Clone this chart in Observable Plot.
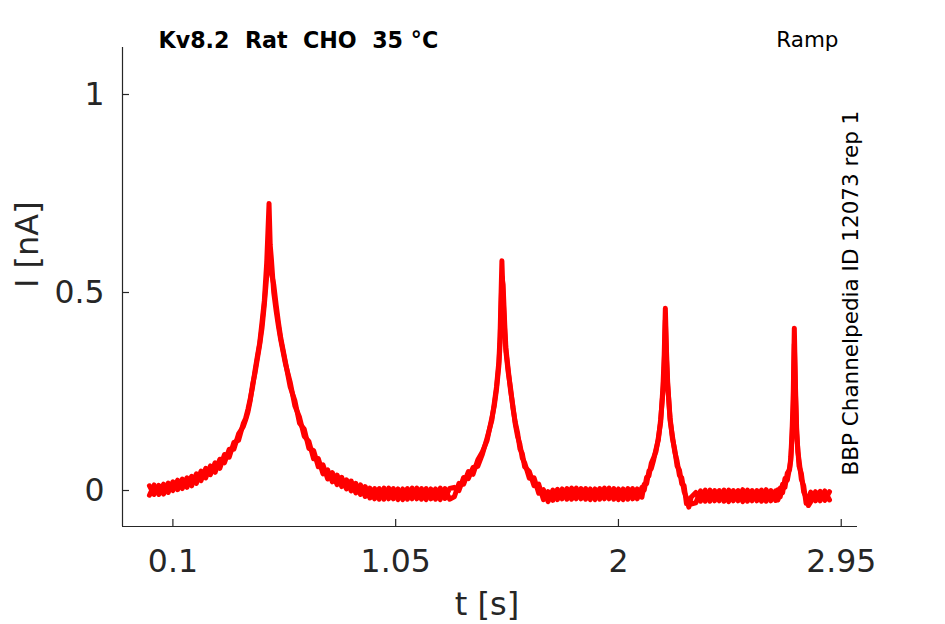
<!DOCTYPE html>
<html>
<head>
<meta charset="utf-8">
<script src="https://cdn.jsdelivr.net/npm/d3@7"></script>
<script src="https://cdn.jsdelivr.net/npm/@observablehq/plot@0.6"></script>
<style>
  html, body { margin: 0; padding: 0; background: #fff; }
  #chart svg { display: block; }
  .pre text { white-space: pre; }
</style>
</head>
<body>
<div id="chart"></div>
<script>
// ---- data ----
const time = [
  0, 0.02, 0.04, 0.06, 0.08, 0.10, 0.12, 0.14, 0.16, 0.18, 0.20, 0.22, 0.24, 0.26, 0.28, 0.30, 0.32, 0.34, 0.36, 0.38, 0.40,
  0.41, 0.42, 0.43, 0.44, 0.45, 0.46, 0.47, 0.48, 0.49, 0.50, 0.505, 0.51, 0.515, 0.52, 0.53, 0.54, 0.55, 0.56,
  0.58, 0.60, 0.62, 0.64, 0.66, 0.68, 0.70, 0.72, 0.74, 0.76, 0.78, 0.80, 0.82, 0.84, 0.86, 0.88, 0.90, 0.92, 0.94, 0.96, 0.98, 1.00, 1.02, 1.04, 1.06, 1.08, 1.10, 1.12, 1.14, 1.16, 1.18, 1.20, 1.22, 1.24, 1.26, 1.28,
  1.30, 1.32, 1.34, 1.36, 1.38, 1.40, 1.42, 1.44, 1.46, 1.47, 1.48, 1.49, 1.495, 1.50, 1.503, 1.508, 1.515, 1.52, 1.53, 1.54, 1.55, 1.56, 1.57, 1.58, 1.59, 1.60,
  1.62, 1.64, 1.66, 1.68, 1.70, 1.72, 1.74, 1.76, 1.78, 1.80, 1.82, 1.84, 1.86, 1.88, 1.90, 1.92, 1.94, 1.96, 1.98, 2.00, 2.02, 2.04, 2.06, 2.08,
  2.10, 2.11, 2.12, 2.13, 2.14, 2.15, 2.16, 2.17, 2.18, 2.19, 2.195, 2.20, 2.205, 2.21, 2.22, 2.23, 2.24, 2.25, 2.26, 2.27, 2.28, 2.29, 2.30, 2.31,
  2.33, 2.35, 2.37, 2.39, 2.41, 2.43, 2.45, 2.47, 2.49, 2.51, 2.53, 2.55, 2.57, 2.59, 2.61, 2.63, 2.65, 2.67,
  2.68, 2.69, 2.70, 2.71, 2.72, 2.73, 2.735, 2.74, 2.745, 2.75, 2.755, 2.76, 2.765, 2.77, 2.78, 2.79, 2.80, 2.81,
  2.82, 2.84, 2.86, 2.88, 2.90
];
const sweep1 = [
  0.012, -0.010, 0.013, -0.009, 0.019, 0.000, 0.026, 0.005, 0.032, 0.012, 0.042, 0.025, 0.056, 0.040, 0.070, 0.056, 0.091, 0.084, 0.121, 0.127, 0.169,
  0.182, 0.205, 0.232, 0.262, 0.302, 0.338, 0.372, 0.425, 0.48, 0.575, 0.65, 0.725, 0.62, 0.585, 0.50, 0.455, 0.415, 0.38,
  0.320, 0.274, 0.214, 0.185, 0.137, 0.124, 0.080, 0.081, 0.042, 0.052, 0.022, 0.039, 0.010, 0.027, -0.001, 0.018, -0.010, 0.010, -0.019, 0.005, -0.022, 0.006, -0.021, 0.005, -0.023, 0.004, -0.022, 0.006, -0.021, 0.005, -0.023, 0.004, -0.022, 0.006, -0.020, 0.005,
  0.008, 0.000, 0.033, 0.030, 0.058, 0.061, 0.092, 0.133, 0.177, 0.218, 0.262, 0.325, 0.39, 0.51, 0.58, 0.49, 0.40, 0.352, 0.298, 0.258, 0.208, 0.172, 0.145, 0.105, 0.093, 0.060,
  0.048, 0.012, 0.016, -0.023, -0.003, -0.025, 0.003, -0.021, 0.005, -0.022, 0.006, -0.021, 0.005, -0.023, 0.004, -0.022, 0.006, -0.021, 0.005, -0.023, 0.004, -0.022, 0.005, -0.021,
  0.008, 0.001, 0.033, 0.037, 0.069, 0.083, 0.098, 0.133, 0.172, 0.265, 0.34, 0.46, 0.35, 0.272, 0.178, 0.138, 0.098, 0.074, 0.038, 0.032, -0.003, -0.018, -0.042, -0.017,
  -0.005, -0.027, 0.001, -0.027, 0.000, -0.026, 0.001, -0.028, 0.000, -0.026, 0.002, -0.027, 0.000, -0.026, 0.001, -0.027, 0.000, -0.025,
  0.002, -0.016, 0.016, 0.008, 0.044, 0.053, 0.085, 0.145, 0.23, 0.41, 0.26, 0.155, 0.098, 0.077, 0.028, 0.012, -0.032, -0.022,
  -0.004, -0.026, -0.002, -0.025, -0.003
];
const sweep2 = [
  -0.012, 0.014, -0.010, 0.016, -0.005, 0.022, 0.002, 0.029, 0.008, 0.036, 0.018, 0.049, 0.032, 0.062, 0.046, 0.079, 0.070, 0.104, 0.104, 0.143, 0.161,
  0.178, 0.198, 0.228, 0.268, 0.296, 0.332, 0.368, 0.41, 0.47, 0.54, 0.60, 0.64, 0.57, 0.55, 0.52, 0.47, 0.425, 0.385,
  0.324, 0.262, 0.227, 0.170, 0.155, 0.106, 0.101, 0.060, 0.065, 0.029, 0.045, 0.015, 0.033, 0.004, 0.024, -0.006, 0.014, -0.015, 0.006, -0.021, 0.005, -0.022, 0.006, -0.021, 0.004, -0.023, 0.005, -0.021, 0.006, -0.022, 0.005, -0.021, 0.004, -0.023, 0.005, -0.022,
  -0.016, 0.018, 0.016, 0.048, 0.041, 0.077, 0.098, 0.127, 0.183, 0.212, 0.255, 0.315, 0.37, 0.47, 0.54, 0.52, 0.42, 0.36, 0.305, 0.252, 0.213, 0.168, 0.136, 0.116, 0.082, 0.070,
  0.031, 0.032, -0.007, 0.002, -0.028, 0.001, -0.023, 0.004, -0.022, 0.006, -0.021, 0.005, -0.022, 0.004, -0.023, 0.005, -0.021, 0.006, -0.022, 0.004, -0.023, 0.005, -0.021, 0.004,
  -0.017, 0.016, 0.017, 0.049, 0.055, 0.077, 0.104, 0.127, 0.18, 0.25, 0.31, 0.43, 0.33, 0.265, 0.185, 0.132, 0.103, 0.062, 0.052, 0.017, 0.012, -0.033, -0.027, -0.034,
  -0.031, -0.001, -0.027, 0.001, -0.026, 0.000, -0.027, 0.001, -0.026, 0.000, -0.028, 0.001, -0.026, 0.000, -0.027, 0.002, -0.026, -0.001,
  -0.024, 0.006, -0.006, 0.030, 0.026, 0.058, 0.076, 0.13, 0.20, 0.37, 0.24, 0.145, 0.104, 0.062, 0.043, -0.004, -0.017, -0.038,
  -0.029, -0.003, -0.026, -0.001, -0.024
];
const xTicks = [0.1, 1.05, 2, 2.95];
const xTickLabels = ["0.1", "1.05", "2", "2.95"];
const yTicks = [0, 0.5, 1];
const yTickLabels = ["0", "0.5", "1"];
const xDomain = [-0.1149, 3.0194];
const yDomain = [-0.0909, 1.1187];
const titleText = "Kv8.2  Rat  CHO  35 °C";
const protocolText = "Ramp";
const sourceText = "BBP Channelpedia ID 12073 rep 1";
const xLabel = "t [s]";
const yLabel = "I [nA]";

// ---- layout ----
const W = 945, H = 624;
const mL = 122, mR = 88, mT = 47, mB = 98;
const plotW = W - mL - mR, plotH = H - mT - mB;
const axisColor = "#262626";
const traceColor = "#ff0000";
const tickLen = 7;

const chart = Plot.plot({
  width: W,
  height: H,
  marginLeft: mL,
  marginRight: mR,
  marginTop: mT,
  marginBottom: mB,
  style: {fontFamily: "DejaVu Sans", color: axisColor, background: "#fff"},
  x: {domain: xDomain},
  y: {domain: yDomain},
  marks: [
    // traces
    Plot.line(sweep2, {x: time, y: sweep2, stroke: traceColor, strokeWidth: 5, strokeLinejoin: "round"}),
    Plot.line(sweep1, {x: time, y: sweep1, stroke: traceColor, strokeWidth: 5, strokeLinejoin: "round"}),
    // axis lines (left & bottom)
    Plot.ruleX([xDomain[0]], {stroke: axisColor, strokeWidth: 1.2}),
    Plot.ruleY([yDomain[0]], {stroke: axisColor, strokeWidth: 1.2}),
    // inward ticks
    Plot.ruleX(xTicks, {x: d => d, insetTop: plotH - tickLen, stroke: axisColor, strokeWidth: 1.2}),
    Plot.ruleY(yTicks, {y: d => d, insetRight: plotW - tickLen, stroke: axisColor, strokeWidth: 1.2}),
    // tick labels
    Plot.axisX({ticks: xTicks, tickFormat: d => xTickLabels[xTicks.indexOf(d)], tickSize: 0, tickPadding: 23, fontSize: 31.5, color: axisColor, label: null}),
    Plot.axisY({ticks: yTicks, tickFormat: d => yTickLabels[yTicks.indexOf(d)], tickSize: 0, tickPadding: 18, fontSize: 31.5, color: axisColor, label: null}),
    // axis labels
    Plot.text([xLabel], {frameAnchor: "bottom", dx: -3, dy: 88, text: d => d, lineAnchor: "bottom", fontSize: 32, fill: axisColor}),
    Plot.text([yLabel], {frameAnchor: "left", dx: -85, dy: 1, rotate: -90, text: d => d, lineAnchor: "bottom", fontSize: 32, fill: axisColor}),
    // annotations
    Plot.text([titleText], {frameAnchor: "top-left", dx: 36, dy: 0, text: d => d, textAnchor: "start", lineAnchor: "bottom", fontSize: 22.2, fontWeight: "bold", fill: "#000", className: "pre"}),
    Plot.text([protocolText], {frameAnchor: "top-right", dx: -19, dy: -1, text: d => d, textAnchor: "end", lineAnchor: "bottom", fontSize: 21.5, fill: "#000"}),
    Plot.text([sourceText], {frameAnchor: "bottom-right", dx: 0, dy: -51, rotate: -90, text: d => d, textAnchor: "start", lineAnchor: "bottom", fontSize: 21.5, fill: "#000"})
  ]
});
document.getElementById("chart").append(chart);
</script>
</body>
</html>
